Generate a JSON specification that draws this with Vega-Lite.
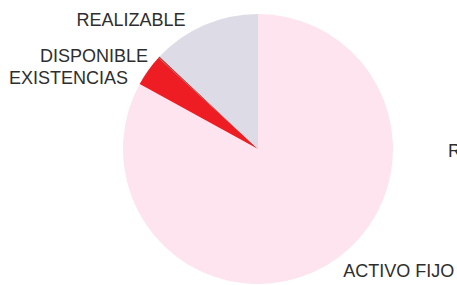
{
  "$schema": "https://vega.github.io/schema/vega-lite/v6.json",
  "width": 398,
  "height": 272,
  "autosize": {"type": "none"},
  "padding": {"left": 59, "top": 13, "right": 0, "bottom": 0},
  "background": "white",
  "config": {"view": {"stroke": null}},
  "data": {
    "values": [
      {"categoria": "ACTIVO FIJO", "valor": 83.0, "orden": 1},
      {"categoria": "EXISTENCIAS", "valor": 3.8, "orden": 2},
      {"categoria": "DISPONIBLE", "valor": 0.2, "orden": 3},
      {"categoria": "REALIZABLE", "valor": 13.0, "orden": 4}
    ]
  },
  "layer": [
    {
      "mark": {"type": "arc", "radius": 135},
      "encoding": {
        "theta": {"field": "valor", "type": "quantitative", "stack": true, "scale": {"domain": [0, 100]}},
        "order": {"field": "orden", "type": "quantitative"},
        "color": {
          "field": "categoria",
          "type": "nominal",
          "scale": {
            "domain": ["ACTIVO FIJO", "EXISTENCIAS", "DISPONIBLE", "REALIZABLE"],
            "range": ["#fde4ee", "#ee1c23", "#b83a3a", "#dddce6"]
          },
          "legend": null
        }
      }
    },
    {
      "transform": [
        {"stack": "valor", "groupby": [], "sort": [{"field": "orden"}], "as": ["v0", "v1"]},
        {"calculate": "(datum.v0 + datum.v1) / 2", "as": "mid"},
        {"filter": "datum.categoria === 'ACTIVO FIJO'"}
      ],
      "mark": {"type": "text", "radius": 150, "align": "left", "baseline": "middle", "dx": 9, "dy": -6, "font": "Liberation Sans", "fontSize": 18, "fill": "#2e2e2e"},
      "encoding": {
        "theta": {"field": "mid", "type": "quantitative", "stack": null, "scale": {"domain": [0, 100]}},
        "text": {"field": "categoria"}
      }
    },
    {
      "transform": [
        {"stack": "valor", "groupby": [], "sort": [{"field": "orden"}], "as": ["v0", "v1"]},
        {"calculate": "(datum.v0 + datum.v1) / 2", "as": "mid"},
        {"filter": "datum.categoria === 'EXISTENCIAS'"}
      ],
      "mark": {"type": "text", "radius": 150, "align": "right", "baseline": "middle", "dx": -8, "dy": 17, "font": "Liberation Sans", "fontSize": 18, "fill": "#2e2e2e"},
      "encoding": {
        "theta": {"field": "mid", "type": "quantitative", "stack": null, "scale": {"domain": [0, 100]}},
        "text": {"field": "categoria"}
      }
    },
    {
      "transform": [
        {"stack": "valor", "groupby": [], "sort": [{"field": "orden"}], "as": ["v0", "v1"]},
        {"calculate": "(datum.v0 + datum.v1) / 2", "as": "mid"},
        {"filter": "datum.categoria === 'DISPONIBLE'"}
      ],
      "mark": {"type": "text", "radius": 150, "align": "right", "baseline": "middle", "dx": 0, "dy": 10, "font": "Liberation Sans", "fontSize": 18, "fill": "#2e2e2e"},
      "encoding": {
        "theta": {"field": "mid", "type": "quantitative", "stack": null, "scale": {"domain": [0, 100]}},
        "text": {"field": "categoria"}
      }
    },
    {
      "transform": [
        {"stack": "valor", "groupby": [], "sort": [{"field": "orden"}], "as": ["v0", "v1"]},
        {"calculate": "(datum.v0 + datum.v1) / 2", "as": "mid"},
        {"filter": "datum.categoria === 'REALIZABLE'"}
      ],
      "mark": {"type": "text", "radius": 150, "align": "right", "baseline": "middle", "dx": -13, "dy": 10, "font": "Liberation Sans", "fontSize": 18, "fill": "#2e2e2e"},
      "encoding": {
        "theta": {"field": "mid", "type": "quantitative", "stack": null, "scale": {"domain": [0, 100]}},
        "text": {"field": "categoria"}
      }
    },
    {
      "data": {"values": [{"etiqueta": "R"}]},
      "mark": {"type": "text", "radius": 190, "align": "left", "baseline": "middle", "dy": 3, "font": "Liberation Sans", "fontSize": 18, "fill": "#2e2e2e"},
      "encoding": {
        "theta": {"datum": 25, "type": "quantitative", "scale": {"domain": [0, 100]}},
        "text": {"field": "etiqueta"}
      }
    }
  ]
}
